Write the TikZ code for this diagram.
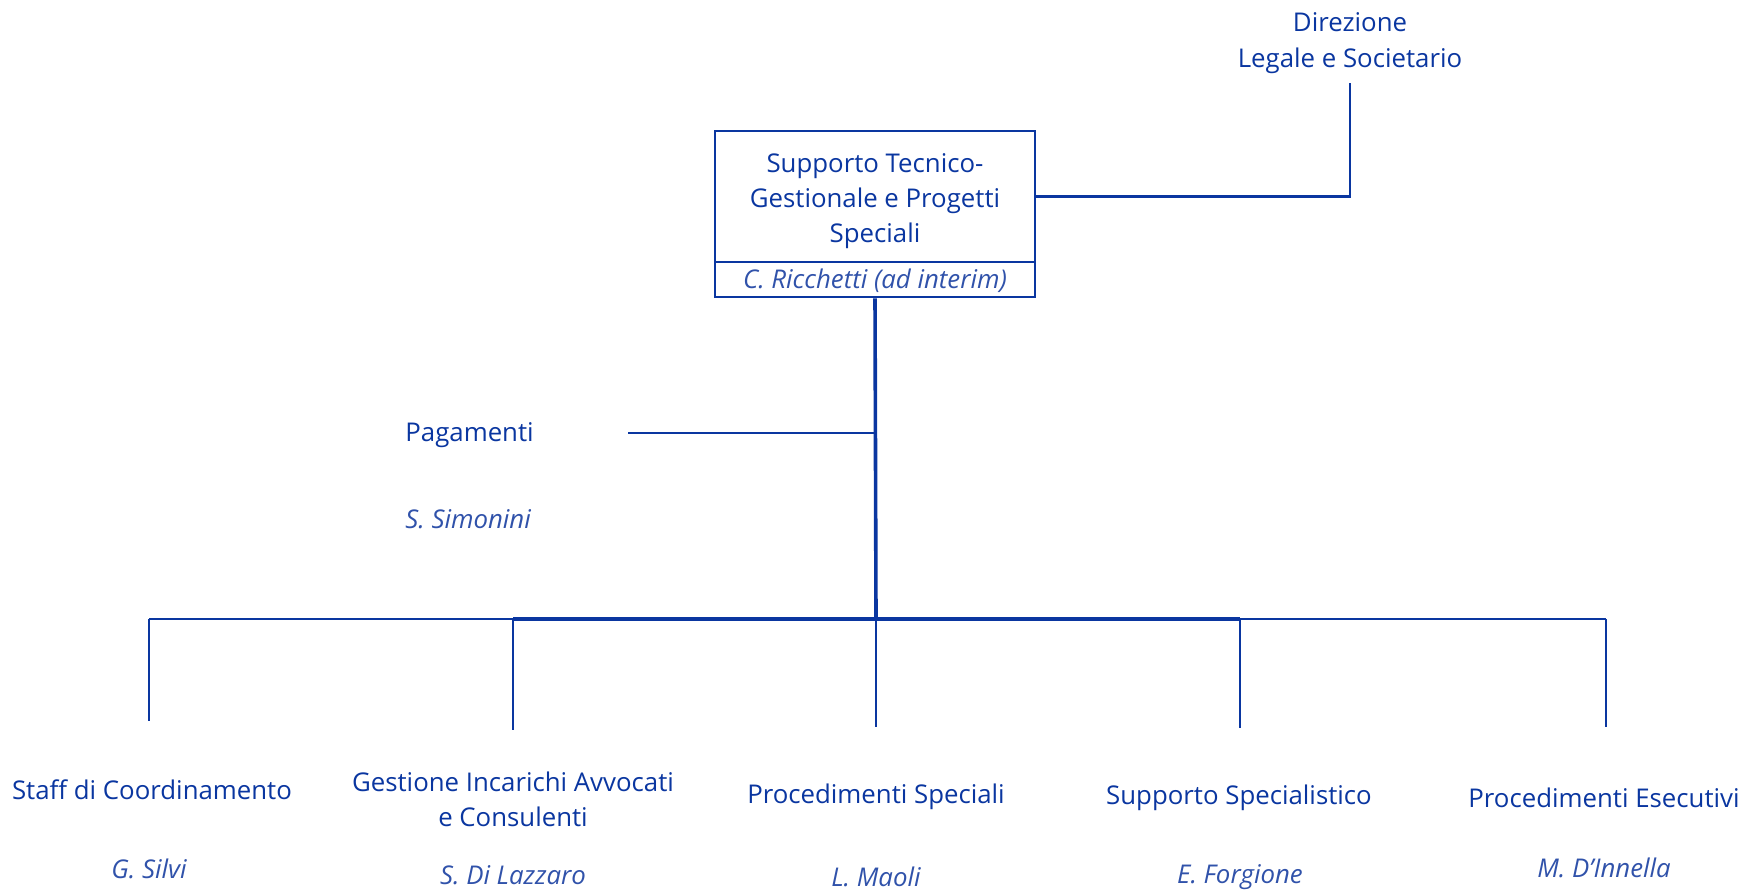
\documentclass[tikz,border=0pt]{standalone}
\usepackage{fontspec}
\setmainfont{Open Sans}
\usepackage{tikz}
\usetikzlibrary{positioning,calc}
\definecolor{orgblue}{HTML}{0A36A0}
\definecolor{nameblue}{HTML}{3052AA}

\begin{document}
\begin{tikzpicture}[
        x=0.5pt, y=-0.5pt,
        every node/.style={font=\fontsize{12.9}{17.5}\selectfont, text=orgblue, inner sep=0pt},
        unitbox/.style={draw=orgblue, line width=1.3pt, minimum width=160pt, minimum height=65.5pt},
        namebox/.style={draw=orgblue, line width=1.3pt, minimum width=160pt, minimum height=17.5pt},
        unit/.style={align=center},
        person/.style={font=\fontsize{12.9}{15}\selectfont\itshape, text=nameblue},
        link/.style={draw=orgblue, line width=1.2pt},
        trunk/.style={draw=orgblue, line width=1.8pt}
    ]
    \useasboundingbox (0,0) rectangle (1739,890);

    % ================= vertice =========================
    \node[unit, font=\fontsize{12.9}{18}\selectfont] (dir) at (1350,43) {Direzione\\Legale e Societario};
    \coordinate (dirEnd) at (1350,83);

    \node[unitbox] (stg) at (875,196.5) {};
    \node[unit] (stgtext) at (875,201) {Supporto Tecnico-\\Gestionale e Progetti\\Speciali};
    \node[namebox] (stgname) at (875,279.5) {};
    \node[person] (ricchetti) at (875,281) {C. Ricchetti (ad interim)};

    \draw[link] (stg.east) -| (dirEnd);

    % ================= staff laterale =========================
    \node[unit, anchor=west] (pag) at (405,435) {Pagamenti};
    \node[person, anchor=west] (simonini) at (405,519) {S. Simonini};
    \coordinate (pagEnd) at (628,433);

    \coordinate (bus) at (876,619);
    \draw[trunk] (stgname.south) -- (bus);
    \draw[link] (pagEnd) -- (pagEnd -| bus);

    % ================= unita' =========================
    \coordinate (staffEnd) at (149,721);
    \coordinate (gestEnd) at (513,730);
    \coordinate (procspEnd) at (876,727);
    \coordinate (suppspEnd) at (1240,728);
    \coordinate (procexEnd) at (1606,727);

    \draw[link] (staffEnd |- bus) -- (procexEnd |- bus);
    \draw[trunk] (gestEnd |- bus) -- (suppspEnd |- bus);
    \foreach \e in {staffEnd,gestEnd,procspEnd,suppspEnd,procexEnd}
    \draw[link] (\e |- bus) -- (\e);

    \node[unit] (staff) at (152,790) {Staff di Coordinamento};
    \node[unit] (gest) at (513,799) {Gestione Incarichi Avvocati\\e Consulenti};
    \node[unit] (procsp) at (876,797) {Procedimenti Speciali};
    \node[unit] (suppsp) at (1239,798) {Supporto Specialistico};
    \node[unit] (procex) at (1604,798) {Procedimenti Esecutivi};

    \node[person] (silvi) at (149,869) {G. Silvi};
    \node[person] (dilazzaro) at (513,875) {S. Di Lazzaro};
    \node[person] (maoli) at (876,877) {L. Maoli};
    \node[person] (forgione) at (1240,877) {E. Forgione};
    \node[person] (dinnella) at (1604,868) {M. D’Innella};
\end{tikzpicture}
\end{document}
